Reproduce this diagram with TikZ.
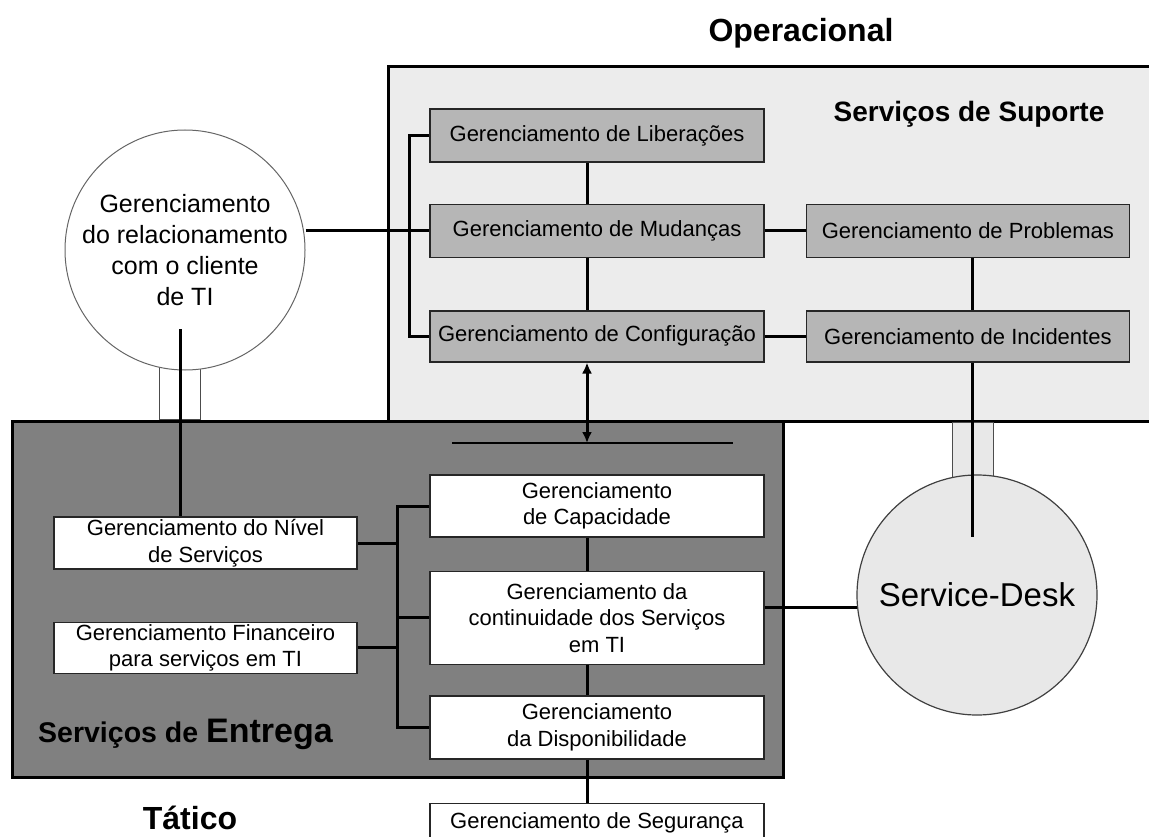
\documentclass[tikz,border=0pt]{standalone}
\usepackage{fontspec}
\setmainfont{Liberation Sans}
\usetikzlibrary{positioning,arrows.meta}
\definecolor{SupFill}{RGB}{236,236,236}
\definecolor{ProcGray}{RGB}{182,182,182}
\definecolor{EntFill}{RGB}{128,128,128}
\definecolor{DeskFill}{RGB}{232,232,232}

\begin{document}
\begin{tikzpicture}[
x=1pt,y=-1pt,
proc/.style={
    rectangle,
    draw=black!85,
    line width=1.4pt,
    fill=ProcGray,
    minimum width=334pt,
    minimum height=53pt,
    inner sep=0pt,
    align=center,
    font=\fontsize{22}{26.5}\selectfont
},
entproc/.style={proc,fill=white},
link/.style={line width=3pt,draw=black},
title/.style={font=\bfseries\fontsize{32}{32}\selectfont,anchor=base,inner sep=0pt},
tube/.style={line width=1pt,draw=black!70}
]
\useasboundingbox (0,0) rectangle (1149,837);

% areas
\draw[line width=3pt,fill=SupFill] (388,67) rectangle (1165,421);
\draw[line width=3pt,fill=EntFill] (12,421) rectangle (783,777);
\draw[tube,fill=white] (159,330) rectangle (200,419.5);
\draw[tube,fill=DeskFill] (952,422.5) rectangle (993,520);

% circles
\node[circle,draw=black!60,line width=1pt,fill=white,minimum size=240pt,inner sep=0pt,
  align=center,font=\fontsize{25}{31}\selectfont] (rel) at (185,250)
  {Gerenciamento\\do relacionamento\\com o cliente\\de TI};
\node[circle,draw=black!75,line width=1.2pt,fill=DeskFill,minimum size=240pt,inner sep=0pt,
  font=\fontsize{33}{33}\selectfont] (sd) at (977,595) {Service-Desk};

% suporte
\node[proc] (lib) at (597,135.5) {Gerenciamento de Liberações};
\node[proc,below=41pt of lib] (mud) {Gerenciamento de Mudanças};
\node[proc,minimum height=51pt,below=52pt of mud] (conf) {Gerenciamento de Configuração};
\node[proc,minimum width=323pt,right=41pt of mud] (prob) {Gerenciamento de Problemas};
\node[proc,minimum width=323pt,minimum height=51pt] (inc) at (prob |- conf) {Gerenciamento de Incidentes};

% entrega
\node[entproc,minimum height=62pt] (cap) at (597,506) {Gerenciamento\\de Capacidade};
\node[entproc,minimum height=93pt,below=33pt of cap] (cont) {Gerenciamento da\\continuidade dos Serviços\\em TI};
\node[entproc,minimum height=63pt,below=30pt of cont] (disp) {Gerenciamento\\da Disponibilidade};
\node[entproc,minimum height=40pt,below=43pt of disp] (seg) {Gerenciamento de Segurança};
\node[entproc,minimum width=303pt,minimum height=52pt] (niv) at (205.5,543) {Gerenciamento do Nível\\de Serviços};
\node[entproc,minimum width=303pt,minimum height=51pt,below=52pt of niv] (fin) {Gerenciamento Financeiro\\para serviços em TI};

% titles
\node[title] (op) at (801,42) {Operacional};
\node[title,font=\bfseries\fontsize{28}{28}\selectfont] (sup) at (969,122) {Serviços de Suporte};
\node[title,anchor=base west,font=\bfseries\fontsize{34}{34}\selectfont] (ent) at (38,742) {{\fontsize{28.5}{28.5}\selectfont Serviços de }Entrega};
\node[title] (tat) at (190,829) {Tático};

\coordinate (spine) at (587,0);
\coordinate (spineR) at (972,0);
\coordinate (busT) at (409,0);
\coordinate (busB) at (397,0);
\coordinate (relend) at (180,329);
\coordinate (sdend) at (972,537);
\coordinate (barL) at (452,443);
\coordinate (barR) at (733,443);

% links
\draw[link] (mud.west -| rel.east) -- (mud.west);
\draw[link] (lib.west) -- (lib.west -| busT) -- (conf.west -| busT) -- (conf.west);
\draw[link] (lib.south -| spine) -- (mud.north -| spine);
\draw[link] (mud.south -| spine) -- (conf.north -| spine);
\draw[link] (mud.east) -- (prob.west);
\draw[link] (conf.east) -- (inc.west);
\draw[link] (prob.south -| spineR) -- (inc.north -| spineR);
\draw[link] (inc.south -| spineR) -- (sdend);
\draw[line width=1.2pt] (barL) -- (barR);
\draw[link,{Latex[length=11pt,width=10pt]}-{Latex[length=11pt,width=10pt]}] (conf.south -| spine) -- (spine |- barL);
\draw[link] (relend) -- (niv.north -| relend);
\draw[link] (cap.west) -- (cap.west -| busB) -- (disp.west -| busB) -- (disp.west);
\draw[link] (cont.west) -- (cont.west -| busB);
\draw[link] (niv.east) -- (niv.east -| busB);
\draw[link] (fin.east) -- (fin.east -| busB);
\draw[link] (cap.south -| spine) -- (cont.north -| spine);
\draw[link] (cont.south -| spine) -- (disp.north -| spine);
\draw[link] (disp.south -| spine) -- (seg.north -| spine);
\draw[link] (sd.186 -| cont.east) -- (sd.186);

\end{tikzpicture}
\end{document}
